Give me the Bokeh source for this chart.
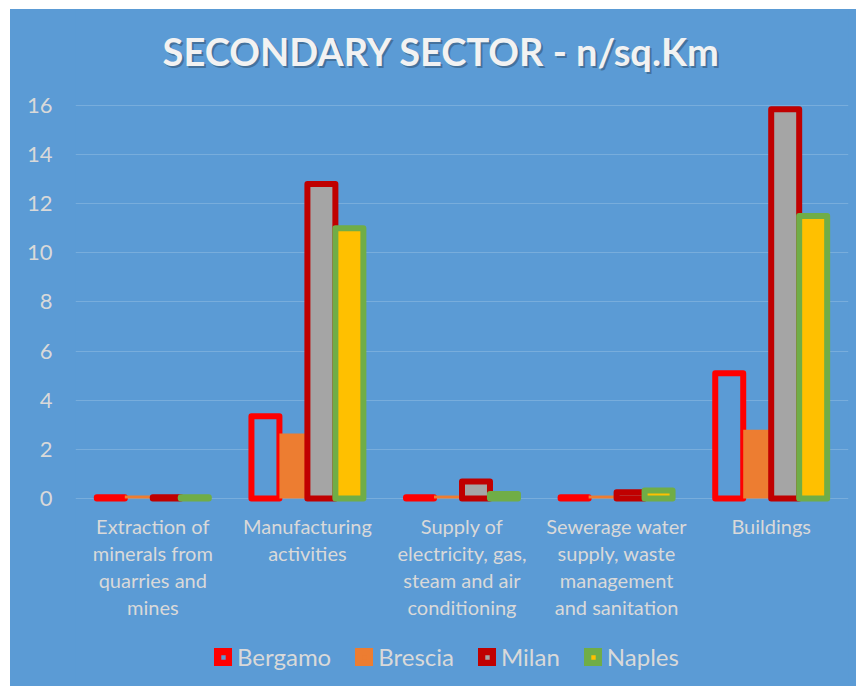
from bokeh.plotting import figure
from bokeh.models import ColumnDataSource, FactorRange, Legend, LegendItem, Spacer, Range1d, Label
from bokeh.transform import dodge
from bokeh.layouts import row, column
from bokeh.embed import file_html
from bokeh.resources import INLINE
from bokeh.core.properties import value

categories = [
    "Extraction of\nminerals from\nquarries and\nmines",
    "Manufacturing\nactivities",
    "Supply of\nelectricity, gas,\nsteam and air\nconditioning",
    "Sewerage water\nsupply, waste\nmanagement\nand sanitation",
    "Buildings",
]
series = ["Bergamo", "Brescia", "Milan", "Naples"]
bergamo = [0.05, 3.35, 0.05, 0.05, 5.1]
brescia = [0.12, 2.65, 0.12, 0.12, 2.8]
milan = [0.05, 12.8, 0.69, 0.25, 15.85]
naples = [0.05, 11.0, 0.18, 0.33, 11.5]
yticks = [0, 2, 4, 6, 8, 10, 12, 14, 16]
title_text = "SECONDARY SECTOR - n/sq.Km"

BG = "#5B9BD5"
TXT = "#D9D9D9"
FONT = "Lato"
fills = ["#5B9BD5", "#ED7D31", "#A5A5A5", "#FFC000"]
lines = ["#FF0000", "#ED7D31", "#C00000", "#70AD47"]
widths = [6, 0, 6, 6]

src = ColumnDataSource(dict(cat=categories, Bergamo=bergamo, Brescia=brescia, Milan=milan, Naples=naples))

# frame spans the whole chart area so that title, category labels and legend are not clipped
p = figure(x_range=FactorRange(*categories, range_padding=0, factor_padding=0),
           y_range=Range1d(-7.654, 19.908), width=846, height=677,
           output_backend="svg", toolbar_location=None, x_axis_location=None,
           min_border_left=65, min_border_right=8, min_border_top=0, min_border_bottom=0,
           background_fill_color=BG, border_fill_color=BG, outline_line_color=None)
p.styles = {"background-color": BG}

bw = 0.181
offsets = [-1.5 * bw, -0.5 * bw, 0.5 * bw, 1.5 * bw]
for name, off, fc, lc, lw in zip(series, offsets, fills, lines, widths):
    p.vbar(x=dodge("cat", off, range=p.x_range), top=name, bottom=0, width=bw, source=src,
           fill_color=fc, line_color=lc, line_width=lw, line_join="round")

# legend swatches: renderers holding no drawable bar (NaN top), used only for the legend
nan_src = ColumnDataSource(dict(cat=categories[:1], top=[float("nan")]))
items = []
for name, fc, lc in zip(series, fills, lines):
    r = p.vbar(x="cat", top="top", bottom=0, width=bw, source=nan_src,
               fill_color=fc, line_color=lc, line_width=10)
    items.append(LegendItem(label=name, renderers=[r]))

# category labels under the bars
p.text(x="cat", y=-0.64, text="cat", source=src, text_align="center", text_baseline="top",
       text_font=value(FONT), text_font_size="20px", text_color=TXT, text_line_height=1.12)

legend = Legend(items=items, orientation="horizontal", location=(139, 15),
                glyph_width=18, glyph_height=18, label_text_font_size="24px",
                label_text_color=TXT, label_text_font=FONT, spacing=24, label_standoff=5,
                padding=0, margin=0, background_fill_alpha=0, border_line_alpha=0)
p.add_layout(legend)

p.add_layout(Label(x=368, y=634, x_units="screen", y_units="screen", text=title_text,
                   text_align="center", text_baseline="middle", text_font_size="38px",
                   text_font_style="bold", text_color="#2E4A66", text_alpha=0.5, text_font=FONT))
p.add_layout(Label(x=366, y=636, x_units="screen", y_units="screen", text=title_text,
                   text_align="center", text_baseline="middle", text_font_size="38px",
                   text_font_style="bold", text_color="#F2F2F2", text_font=FONT))

p.ygrid.grid_line_color = "#FFFFFF"
p.ygrid.grid_line_alpha = 0.18
p.xgrid.grid_line_color = None
p.yaxis.ticker = yticks
p.yaxis.major_label_text_font_size = "22px"
p.yaxis.major_label_text_color = TXT
p.yaxis.major_label_text_font = FONT
p.yaxis.axis_line_color = None
p.yaxis.major_tick_line_color = None
p.yaxis.minor_tick_line_color = None
p.yaxis.major_label_standoff = 17

layout = row(Spacer(width=10), column(Spacer(height=9), p))
open("out.html", "w").write(file_html(layout, INLINE))
